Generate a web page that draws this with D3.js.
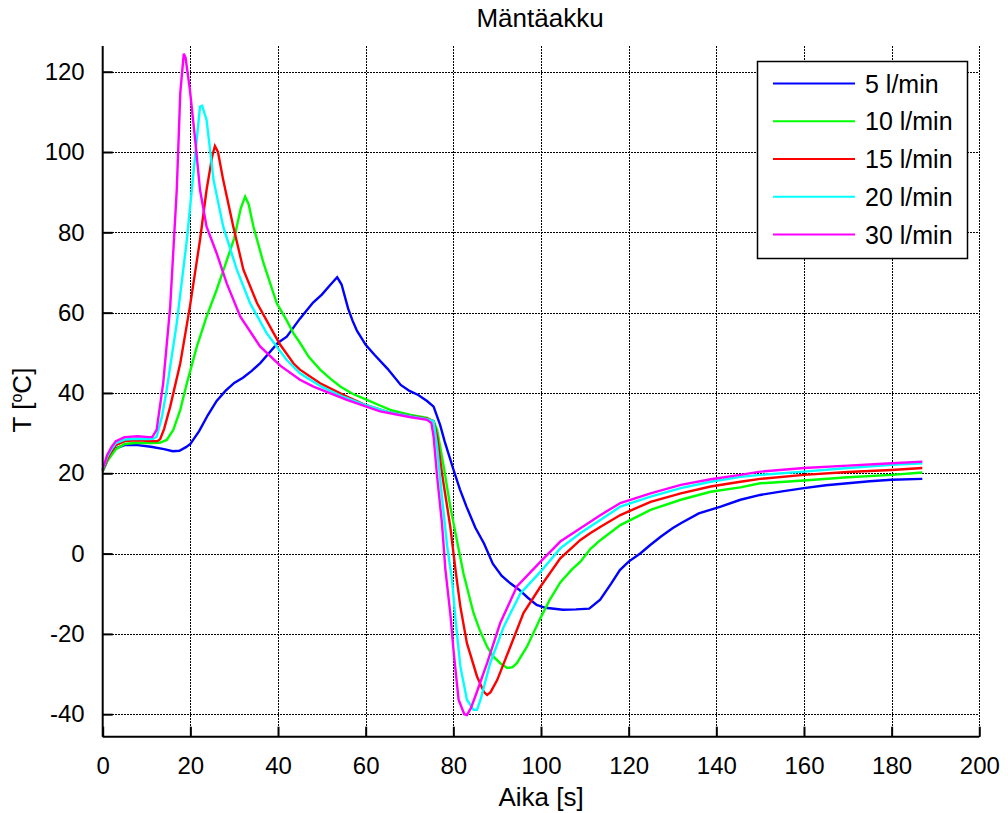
<!DOCTYPE html>
<html>
<head>
<meta charset="utf-8">
<script src="https://cdn.jsdelivr.net/npm/d3@7/dist/d3.min.js"></script>
<style>
  html, body { margin: 0; padding: 0; background: #fff; }
  svg { display: block; font-family: "Liberation Sans", Arial, sans-serif; }
</style>
</head>
<body>
<svg id="chart" width="1008" height="813"></svg>
<script>
// Temperature [°C] vs time [s] for each flow rate, as [t, T] pairs
const flow5 = [[0,20.5],[1,23],[2,25],[3,26.2],[5,27],[8,27],[11,26.6],[14,26],[16,25.5],[17.5,25.6],[19,26.5],[20,27.3],[22,30.5],[24,34.5],[26,38],[28,40.5],[30,42.5],[32,43.8],[34,45.5],[36,47.5],[38,50],[40,52.5],[42,54],[45,58.5],[48,62.5],[50,64.5],[52,67],[53.5,68.8],[54.5,67],[56,61],[57,58],[58,55.5],[60,52],[62,49.5],[65,46],[68,42],[70,40.5],[72,39.5],[74,38],[75.5,36.6],[77,32],[78,28],[80,21],[81.5,16],[83,11.7],[85,6.5],[87,2.5],[89,-2.5],[91,-5.5],[93,-7.4],[95,-9],[97,-11],[99,-12.8],[101,-13.5],[105,-14],[108,-13.9],[111,-13.7],[113.5,-11.5],[116,-7.5],[118,-4.1],[120,-2],[122.7,0.1],[125,2.2],[127.3,4.2],[130,6.3],[132,7.6],[136,10],[141,11.7],[145.5,13.4],[150,14.6],[155,15.5],[160,16.3],[165,17],[170,17.5],[175,18],[180,18.4],[187,18.6]];
const flow10 = [[0,20.5],[1,23],[2,24.5],[3,26],[5,27.3],[8,27.6],[11,27.5],[13,27.6],[14.6,28.3],[16.1,30.8],[17.7,35.8],[19.2,42.4],[21.5,51.6],[23.7,59],[26,65.7],[28,72],[30,78.5],[31.5,86],[32.5,88.9],[33.3,87],[34.4,81.4],[36.7,72.3],[39.7,62.4],[42,58],[43.5,54.9],[45,52.5],[47,49],[49.6,45.8],[52,43.5],[54.2,41.6],[57,39.8],[60.3,38.3],[63,37],[65.6,35.8],[70,34.6],[74,33.8],[75.5,33],[76.3,30.8],[77.8,21.7],[79.3,11.7],[80.8,3.4],[82.3,-4.9],[84.6,-14.8],[86,-19],[87.7,-23.2],[89,-25.5],[90.7,-27.3],[92.3,-28.5],[93.5,-28.3],[94.5,-27.3],[96.8,-23.2],[99.9,-16],[102,-11.5],[104.4,-7.2],[107,-4],[109,-2],[111.3,1.2],[113.6,3.4],[118.1,7.1],[125,10.9],[131.9,13.4],[138.7,15.4],[145.5,16.5],[150,17.5],[160,18.2],[170,19],[180,19.6],[187,20.2]];
const flow15 = [[0,20.8],[1,23.5],[2,25.5],[3,27],[5,28],[8,28.2],[11,28],[12.5,28],[13.1,28.5],[14,31],[15.4,36.6],[17.7,47.4],[19.9,61.5],[22.2,78.1],[23.7,90.6],[25,99],[25.6,101.5],[26.3,100],[27.5,93],[29.8,81.4],[32.1,70.7],[35.2,62.4],[39,54.9],[40.5,52],[43.5,47.4],[45,45.8],[49.6,42.4],[55.7,39.1],[60,37],[65,35.3],[70,34.3],[74,33.6],[75.5,33],[76.3,29.1],[77.4,20],[79.3,6.7],[80.5,-4.1],[81.6,-13.2],[83.1,-22.3],[85.4,-30.6],[87,-34.5],[87.7,-35.2],[88.5,-34.5],[90,-31.5],[93,-23.2],[96,-14.8],[99.9,-8.2],[104.4,-1.2],[109,3.4],[111.3,5.1],[113.6,6.7],[118.1,9.6],[125,12.9],[131.9,15],[138.7,16.7],[145.5,17.9],[150,18.6],[160,19.6],[170,20.3],[180,20.8],[187,21.3]];
const flow20 = [[0,21],[1,24],[2,26],[3,27.5],[5,28.4],[8,28.6],[10.5,28.5],[11.5,28.6],[12.3,29.1],[13.5,34],[14.6,40.8],[16.9,57.4],[19.2,78.1],[20.7,94.7],[22.2,111.3],[22.7,111.5],[23.7,108],[25.3,93],[27.5,81.4],[30.6,70.7],[33.6,62.4],[37.4,54.9],[42,48.2],[45,44.9],[50,41.5],[55,39],[60,37],[65,35.3],[70,34.2],[74,33.5],[75.5,33],[76.3,26.6],[77.4,14.2],[78.6,1.7],[79.7,-6.5],[80.5,-16.5],[81.6,-28.1],[83.1,-36.4],[84.6,-38.9],[85.4,-38.9],[86.2,-36.4],[88.4,-27.3],[91.5,-18.2],[95.3,-9.9],[99.9,-4.5],[104.4,1.3],[109,5.1],[113.6,8.4],[118.1,11.7],[125,14.2],[131.9,16.3],[138.7,17.9],[145.5,19.1],[150,19.6],[160,20.4],[170,21.3],[180,22.1],[187,22.5]];
const flow30 = [[0,21],[1,24.5],[2,26.5],[3,28],[5,29],[8,29.2],[10.5,29],[11.3,29],[12.3,30.8],[13.8,42.4],[15.4,61.5],[16.9,90.6],[17.7,114.7],[18.5,124.5],[18.9,123.5],[19.9,115.5],[21.1,103],[22.2,90.6],[23.7,81.4],[26,74.8],[28.3,67.3],[31.4,59],[35.9,51.6],[40.5,46.8],[45,43.3],[48.1,41.6],[55.7,38.3],[63.3,35.4],[70,34],[74,33.3],[75,32.5],[75.5,29.1],[76.3,19.2],[77.4,7.6],[78.2,-4.1],[79.3,-14.8],[80.1,-24.8],[81.2,-36.4],[82.5,-40],[83.1,-40.2],[84,-38.5],[85,-35.6],[87.7,-27.3],[90.7,-17.3],[94.5,-8.2],[99.9,-2],[104.4,3],[109,6.3],[113.6,9.6],[118.1,12.6],[125,15],[131.9,17.1],[138.7,18.5],[145.5,19.6],[150,20.4],[160,21.3],[170,21.9],[180,22.5],[187,22.9]];

const seriesNames = ["5 l/min", "10 l/min", "15 l/min", "20 l/min", "30 l/min"];
const seriesData = [flow5, flow10, flow15, flow20, flow30];
const seriesColors = ["#0000ff", "#00ff00", "#ff0000", "#00ffff", "#ff00ff"];

const xTicks = [0, 20, 40, 60, 80, 100, 120, 140, 160, 180, 200];
const yTicks = [-40, -20, 0, 20, 40, 60, 80, 100, 120];

const titleText = "Mäntäakku";
const xLabel = "Aika [s]";

const svg = d3.select("#chart");
const plot = { left: 102.7, right: 979.3, top: 46, bottom: 736.7 };

const x = d3.scaleLinear().domain([0, 200]).range([plot.left, plot.right]);
const y = d3.scaleLinear().domain([-45.6, 126.4]).range([plot.bottom, plot.top]);
const px = v => Math.round(v) + 0.5;

// dotted grid, snapped to whole pixels
const grid = svg.append("g").attr("stroke", "#000").attr("stroke-width", 1)
  .attr("stroke-dasharray", "2,1").attr("shape-rendering", "crispEdges");
grid.selectAll("line.gx").data(xTicks.filter(d => d > 0)).join("line")
  .attr("x1", d => px(x(d))).attr("x2", d => px(x(d)))
  .attr("y1", plot.top).attr("y2", plot.bottom);
grid.selectAll("line.gy").data(yTicks).join("line")
  .attr("x1", plot.left).attr("x2", plot.right)
  .attr("y1", d => px(y(d))).attr("y2", d => px(y(d)));

// curves
const line = d3.line().x(d => x(d[0])).y(d => y(d[1]));
svg.append("g").selectAll("path").data(seriesData).join("path")
  .attr("d", d => line(d))
  .attr("fill", "none")
  .attr("stroke", (d, i) => seriesColors[i])
  .attr("stroke-width", 2.4)
  .attr("stroke-linejoin", "miter");

// axes with inward ticks, plain hyphen for negatives
const fmt = d => String(d);
const xAxis = d3.axisBottom(x).tickValues(xTicks).tickFormat(fmt).tickSizeInner(-10).tickSizeOuter(0).tickPadding(20);
const yAxis = d3.axisLeft(y).tickValues(yTicks).tickFormat(fmt).tickSizeInner(-10).tickSizeOuter(0).tickPadding(18);

const gx = svg.append("g").attr("transform", `translate(0,${plot.bottom})`).call(xAxis);
const gy = svg.append("g").attr("transform", `translate(${plot.left},0)`).call(yAxis);
[gx, gy].forEach(g => {
  g.select(".domain").attr("stroke", "#000").attr("stroke-width", 2);
  g.selectAll(".tick line").attr("stroke", "#000").attr("stroke-width", 2);
  g.selectAll(".tick text").attr("fill", "#000")
    .style("font-family", "Liberation Sans, Arial, sans-serif").style("font-size", "24px");
});
gx.select(".domain").attr("d", `M${plot.left},0H${plot.right}`);
gy.select(".domain").attr("d", `M0,${plot.top}V${plot.bottom}`);

// title and axis labels
svg.append("text").attr("x", 540).attr("y", 27).attr("text-anchor", "middle")
  .style("font-size", "26px").text(titleText);
svg.append("text").attr("x", 541).attr("y", 806).attr("text-anchor", "middle")
  .style("font-size", "26px").text(xLabel);
const yl = svg.append("text").attr("transform", "translate(31,400) rotate(-90)")
  .attr("text-anchor", "middle").style("font-size", "26px");
yl.append("tspan").text("T [");
yl.append("tspan").attr("font-size", "16px").attr("dy", -9).text("o");
yl.append("tspan").attr("dy", 9).text("C]");

// legend
const lg = svg.append("g");
lg.append("rect").attr("x", 757.5).attr("y", 61.5).attr("width", 210).attr("height", 197)
  .attr("fill", "#fff").attr("stroke", "#000").attr("stroke-width", 1.5);
const rowY = d3.scaleLinear().domain([0, 4]).range([83.5, 234.5]);
seriesNames.forEach((name, i) => {
  lg.append("line").attr("x1", 773).attr("x2", 855)
    .attr("y1", rowY(i)).attr("y2", rowY(i))
    .attr("stroke", seriesColors[i]).attr("stroke-width", 2);
  lg.append("text").attr("x", 865).attr("y", rowY(i) + 9)
    .style("font-size", "25px").text(name);
});
</script>
</body>
</html>
